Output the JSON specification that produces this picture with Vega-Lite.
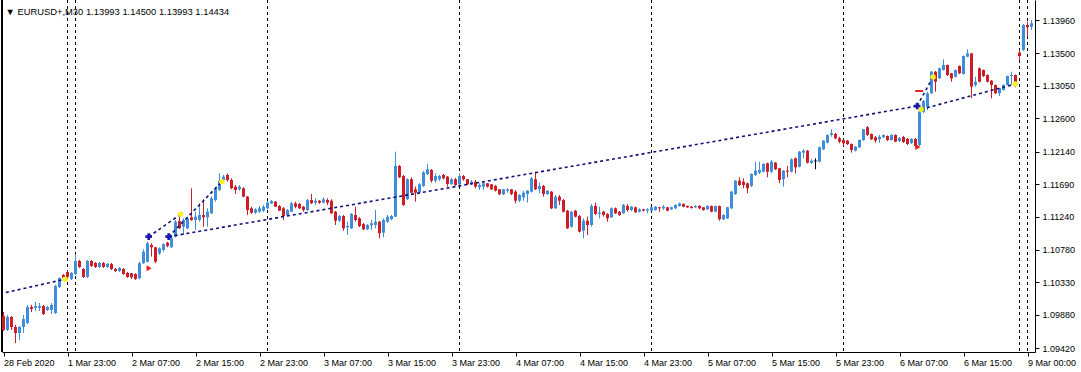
{
"$schema":"https://vega.github.io/schema/vega-lite/v6.json",
"width":1033,"height":352,
"autosize":{"type":"none"},
"padding":{"left":2,"top":0,"right":46,"bottom":20},
"background":"white",
"title":{"text":"▼ EURUSD+,M30  1.13993 1.14500 1.13993 1.14434","anchor":"start","orient":"top","offset":-25,"dx":4,"font":"Liberation Sans","fontSize":9.4,"fontWeight":"normal","color":"black","baseline":"alphabetic"},
"config":{"view":{"stroke":null},"scale":{"continuousPadding":0},"axis":{"labelFont":"Liberation Sans","labelFontSize":9,"labelColor":"black","tickColor":"black","domainColor":"black","domainWidth":1,"tickWidth":1,"grid":false,"labelOverlap":false}},
"datasets":{
"candles":[
{"i":0,"o":1.09864,"h":1.09919,"l":1.09656,"c":1.0967},
{"i":1,"o":1.0967,"h":1.09877,"l":1.09656,"c":1.09849},
{"i":2,"o":1.09849,"h":1.09864,"l":1.0967,"c":1.09711},
{"i":3,"o":1.09711,"h":1.09739,"l":1.0949,"c":1.09628},
{"i":4,"o":1.09628,"h":1.09725,"l":1.09531,"c":1.09711},
{"i":5,"o":1.09711,"h":1.09877,"l":1.09628,"c":1.09822},
{"i":6,"o":1.09766,"h":1.10016,"l":1.09753,"c":1.09988},
{"i":7,"o":1.09988,"h":1.10016,"l":1.09919,"c":1.09961},
{"i":8,"o":1.09975,"h":1.10057,"l":1.09933,"c":1.10002},
{"i":9,"o":1.09975,"h":1.10043,"l":1.09933,"c":1.10002},
{"i":10,"o":1.10002,"h":1.10016,"l":1.09877,"c":1.09892},
{"i":11,"o":1.09947,"h":1.10002,"l":1.09933,"c":1.09988},
{"i":12,"o":1.09947,"h":1.10043,"l":1.09892,"c":1.10016},
{"i":13,"o":1.09905,"h":1.10292,"l":1.09892,"c":1.10278},
{"i":14,"o":1.10264,"h":1.10395,"l":1.10251,"c":1.1039},
{"i":15,"o":1.10431,"h":1.10445,"l":1.10362,"c":1.1039},
{"i":16,"o":1.10472,"h":1.10486,"l":1.10362,"c":1.10403},
{"i":17,"o":1.10376,"h":1.10472,"l":1.10362,"c":1.10459},
{"i":18,"o":1.10445,"h":1.10722,"l":1.10431,"c":1.10625},
{"i":19,"o":1.10625,"h":1.10639,"l":1.10528,"c":1.10542},
{"i":20,"o":1.10514,"h":1.10528,"l":1.1039,"c":1.10403},
{"i":21,"o":1.10403,"h":1.10639,"l":1.1039,"c":1.10625},
{"i":22,"o":1.10625,"h":1.10639,"l":1.10542,"c":1.10556},
{"i":23,"o":1.10597,"h":1.10611,"l":1.10528,"c":1.10542},
{"i":24,"o":1.10542,"h":1.10611,"l":1.10528,"c":1.10597},
{"i":25,"o":1.10597,"h":1.10611,"l":1.10528,"c":1.10542},
{"i":26,"o":1.10542,"h":1.10597,"l":1.10528,"c":1.10584},
{"i":27,"o":1.10584,"h":1.10597,"l":1.105,"c":1.10514},
{"i":28,"o":1.10514,"h":1.10528,"l":1.10472,"c":1.10486},
{"i":29,"o":1.10486,"h":1.10542,"l":1.10472,"c":1.10528},
{"i":30,"o":1.10514,"h":1.10528,"l":1.10431,"c":1.10445},
{"i":31,"o":1.10459,"h":1.10472,"l":1.1039,"c":1.10403},
{"i":32,"o":1.10455,"h":1.10459,"l":1.10376,"c":1.10399},
{"i":33,"o":1.10445,"h":1.10455,"l":1.10362,"c":1.10376},
{"i":34,"o":1.10385,"h":1.10615,"l":1.10372,"c":1.10593},
{"i":35,"o":1.10593,"h":1.10787,"l":1.10584,"c":1.10754},
{"i":36,"o":1.10615,"h":1.10892,"l":1.10602,"c":1.10869},
{"i":37,"o":1.10846,"h":1.10869,"l":1.10685,"c":1.10814},
{"i":38,"o":1.10814,"h":1.10822,"l":1.10593,"c":1.10615},
{"i":39,"o":1.10731,"h":1.10814,"l":1.10708,"c":1.108},
{"i":40,"o":1.10777,"h":1.10869,"l":1.10754,"c":1.10856},
{"i":41,"o":1.10878,"h":1.10892,"l":1.10814,"c":1.10832},
{"i":42,"o":1.10814,"h":1.10961,"l":1.10805,"c":1.10939},
{"i":43,"o":1.10961,"h":1.11192,"l":1.10953,"c":1.11169},
{"i":44,"o":1.11178,"h":1.11238,"l":1.11068,"c":1.11077},
{"i":45,"o":1.11099,"h":1.11215,"l":1.10985,"c":1.11192},
{"i":46,"o":1.11077,"h":1.11238,"l":1.11068,"c":1.11215},
{"i":47,"o":1.11229,"h":1.11631,"l":1.11182,"c":1.11192},
{"i":48,"o":1.11192,"h":1.11307,"l":1.11054,"c":1.11238},
{"i":49,"o":1.11192,"h":1.11423,"l":1.11169,"c":1.11262},
{"i":50,"o":1.11262,"h":1.11479,"l":1.11099,"c":1.11229},
{"i":51,"o":1.11229,"h":1.11354,"l":1.11099,"c":1.11307},
{"i":52,"o":1.11285,"h":1.11515,"l":1.11276,"c":1.11492},
{"i":53,"o":1.11469,"h":1.11653,"l":1.11446,"c":1.11631},
{"i":54,"o":1.11607,"h":1.11838,"l":1.11598,"c":1.11736},
{"i":55,"o":1.11746,"h":1.11815,"l":1.11722,"c":1.11791},
{"i":56,"o":1.11815,"h":1.11838,"l":1.11722,"c":1.11746},
{"i":57,"o":1.11746,"h":1.11769,"l":1.11617,"c":1.11631},
{"i":58,"o":1.11653,"h":1.11677,"l":1.11552,"c":1.11607},
{"i":59,"o":1.11617,"h":1.11677,"l":1.11598,"c":1.11653},
{"i":60,"o":1.11631,"h":1.11645,"l":1.11506,"c":1.11515},
{"i":61,"o":1.11515,"h":1.11525,"l":1.11262,"c":1.11331},
{"i":62,"o":1.11354,"h":1.11376,"l":1.11276,"c":1.11293},
{"i":63,"o":1.11293,"h":1.11354,"l":1.11276,"c":1.1134},
{"i":64,"o":1.11307,"h":1.11386,"l":1.11289,"c":1.11354},
{"i":65,"o":1.11321,"h":1.114,"l":1.11303,"c":1.11376},
{"i":66,"o":1.11354,"h":1.11455,"l":1.11344,"c":1.11432},
{"i":67,"o":1.11423,"h":1.11469,"l":1.11414,"c":1.11455},
{"i":68,"o":1.11446,"h":1.11455,"l":1.11372,"c":1.11376},
{"i":69,"o":1.11386,"h":1.114,"l":1.11317,"c":1.11321},
{"i":70,"o":1.11354,"h":1.11372,"l":1.11192,"c":1.11248},
{"i":71,"o":1.11262,"h":1.11345,"l":1.11248,"c":1.11331},
{"i":72,"o":1.11307,"h":1.11441,"l":1.11303,"c":1.11423},
{"i":73,"o":1.11423,"h":1.11446,"l":1.11354,"c":1.11376},
{"i":74,"o":1.11414,"h":1.11428,"l":1.11344,"c":1.11354},
{"i":75,"o":1.11376,"h":1.11386,"l":1.11307,"c":1.11331},
{"i":76,"o":1.11331,"h":1.11483,"l":1.11317,"c":1.11469},
{"i":77,"o":1.11469,"h":1.11552,"l":1.11414,"c":1.11423},
{"i":78,"o":1.11432,"h":1.11492,"l":1.114,"c":1.11459},
{"i":79,"o":1.11459,"h":1.11469,"l":1.11414,"c":1.11432},
{"i":80,"o":1.11432,"h":1.11506,"l":1.11423,"c":1.11479},
{"i":81,"o":1.11469,"h":1.11492,"l":1.114,"c":1.11432},
{"i":82,"o":1.11459,"h":1.11479,"l":1.11276,"c":1.11285},
{"i":83,"o":1.11307,"h":1.11317,"l":1.11123,"c":1.11182},
{"i":84,"o":1.11182,"h":1.11262,"l":1.11165,"c":1.11248},
{"i":85,"o":1.11248,"h":1.11262,"l":1.11044,"c":1.11077},
{"i":86,"o":1.11091,"h":1.11169,"l":1.10985,"c":1.11109},
{"i":87,"o":1.11077,"h":1.11289,"l":1.11068,"c":1.11276},
{"i":88,"o":1.11262,"h":1.11376,"l":1.11169,"c":1.11192},
{"i":89,"o":1.11215,"h":1.11233,"l":1.11095,"c":1.11109},
{"i":90,"o":1.11137,"h":1.11151,"l":1.11054,"c":1.11063},
{"i":91,"o":1.11063,"h":1.11137,"l":1.11054,"c":1.11123},
{"i":92,"o":1.11119,"h":1.11192,"l":1.11054,"c":1.11146},
{"i":93,"o":1.11123,"h":1.11331,"l":1.11077,"c":1.11169},
{"i":94,"o":1.11169,"h":1.11178,"l":1.10939,"c":1.11008},
{"i":95,"o":1.11017,"h":1.11215,"l":1.10953,"c":1.11192},
{"i":96,"o":1.11169,"h":1.11262,"l":1.11151,"c":1.11238},
{"i":97,"o":1.11202,"h":1.11262,"l":1.11192,"c":1.11248},
{"i":98,"o":1.11238,"h":1.12138,"l":1.11234,"c":1.1194},
{"i":99,"o":1.1194,"h":1.11953,"l":1.11774,"c":1.11783},
{"i":100,"o":1.11801,"h":1.11815,"l":1.11386,"c":1.114},
{"i":101,"o":1.11479,"h":1.11769,"l":1.11469,"c":1.11756},
{"i":102,"o":1.11756,"h":1.11783,"l":1.11562,"c":1.1157},
{"i":103,"o":1.11617,"h":1.11653,"l":1.11446,"c":1.1157},
{"i":104,"o":1.1157,"h":1.11704,"l":1.11552,"c":1.11686},
{"i":105,"o":1.11663,"h":1.1187,"l":1.11649,"c":1.11852},
{"i":106,"o":1.11829,"h":1.11967,"l":1.11815,"c":1.11894},
{"i":107,"o":1.11884,"h":1.11898,"l":1.11709,"c":1.11736},
{"i":108,"o":1.11736,"h":1.11838,"l":1.11709,"c":1.11801},
{"i":109,"o":1.11756,"h":1.11815,"l":1.11732,"c":1.11801},
{"i":110,"o":1.11815,"h":1.11829,"l":1.11756,"c":1.11769},
{"i":111,"o":1.11792,"h":1.11801,"l":1.11653,"c":1.1169},
{"i":112,"o":1.1169,"h":1.11774,"l":1.11677,"c":1.11756},
{"i":113,"o":1.11756,"h":1.11774,"l":1.11663,"c":1.11677},
{"i":114,"o":1.11686,"h":1.11838,"l":1.11677,"c":1.11801},
{"i":115,"o":1.11801,"h":1.11815,"l":1.11736,"c":1.11756},
{"i":116,"o":1.11756,"h":1.1176,"l":1.11677,"c":1.11686},
{"i":117,"o":1.1169,"h":1.11746,"l":1.11677,"c":1.11722},
{"i":118,"o":1.11722,"h":1.11746,"l":1.11631,"c":1.11653},
{"i":119,"o":1.11645,"h":1.117,"l":1.11607,"c":1.11677},
{"i":120,"o":1.11653,"h":1.11722,"l":1.11607,"c":1.117},
{"i":121,"o":1.117,"h":1.11704,"l":1.11642,"c":1.11653},
{"i":122,"o":1.11686,"h":1.1169,"l":1.11607,"c":1.11617},
{"i":123,"o":1.11663,"h":1.11677,"l":1.11587,"c":1.11598},
{"i":124,"o":1.11617,"h":1.11621,"l":1.11538,"c":1.11548},
{"i":125,"o":1.11548,"h":1.11621,"l":1.11538,"c":1.11617},
{"i":126,"o":1.11598,"h":1.11631,"l":1.1157,"c":1.11617},
{"i":127,"o":1.11617,"h":1.11621,"l":1.11538,"c":1.11552},
{"i":128,"o":1.11584,"h":1.11607,"l":1.11423,"c":1.11459},
{"i":129,"o":1.11459,"h":1.11552,"l":1.11441,"c":1.11538},
{"i":130,"o":1.11506,"h":1.11594,"l":1.11459,"c":1.1157},
{"i":131,"o":1.11552,"h":1.11607,"l":1.11432,"c":1.11598},
{"i":132,"o":1.11584,"h":1.11787,"l":1.11573,"c":1.11769},
{"i":133,"o":1.11756,"h":1.11861,"l":1.11607,"c":1.11617},
{"i":134,"o":1.11617,"h":1.11709,"l":1.11562,"c":1.11663},
{"i":135,"o":1.11663,"h":1.11677,"l":1.11515,"c":1.11552},
{"i":136,"o":1.11552,"h":1.11607,"l":1.11538,"c":1.11598},
{"i":137,"o":1.11584,"h":1.11594,"l":1.11344,"c":1.11354},
{"i":138,"o":1.11354,"h":1.11538,"l":1.11344,"c":1.11515},
{"i":139,"o":1.11515,"h":1.11538,"l":1.114,"c":1.11459},
{"i":140,"o":1.11469,"h":1.11483,"l":1.11296,"c":1.11307},
{"i":141,"o":1.11321,"h":1.11331,"l":1.11068,"c":1.11077},
{"i":142,"o":1.11099,"h":1.11317,"l":1.11088,"c":1.11307},
{"i":143,"o":1.11321,"h":1.11331,"l":1.11227,"c":1.11238},
{"i":144,"o":1.11248,"h":1.11262,"l":1.11019,"c":1.11031},
{"i":145,"o":1.11044,"h":1.11215,"l":1.10939,"c":1.11182},
{"i":146,"o":1.11182,"h":1.11238,"l":1.10985,"c":1.11123},
{"i":147,"o":1.11123,"h":1.11414,"l":1.11099,"c":1.11386},
{"i":148,"o":1.11386,"h":1.11432,"l":1.11262,"c":1.11276},
{"i":149,"o":1.11276,"h":1.11376,"l":1.11215,"c":1.11293},
{"i":150,"o":1.11307,"h":1.11321,"l":1.11238,"c":1.11262},
{"i":151,"o":1.11276,"h":1.11285,"l":1.11169,"c":1.11215},
{"i":152,"o":1.11229,"h":1.11365,"l":1.1122,"c":1.11354},
{"i":153,"o":1.11354,"h":1.11365,"l":1.11276,"c":1.11285},
{"i":154,"o":1.11307,"h":1.11317,"l":1.11248,"c":1.11262},
{"i":155,"o":1.11285,"h":1.11414,"l":1.11276,"c":1.114},
{"i":156,"o":1.11386,"h":1.11414,"l":1.11307,"c":1.11331},
{"i":157,"o":1.11331,"h":1.11386,"l":1.11317,"c":1.11376},
{"i":158,"o":1.11368,"h":1.11376,"l":1.11289,"c":1.11299},
{"i":159,"o":1.11307,"h":1.11354,"l":1.11296,"c":1.1134},
{"i":160,"o":1.1134,"h":1.11345,"l":1.1131,"c":1.11321},
{"i":161,"o":1.11321,"h":1.11354,"l":1.11285,"c":1.1134},
{"i":162,"o":1.11321,"h":1.11376,"l":1.11313,"c":1.11368},
{"i":163,"o":1.11331,"h":1.11386,"l":1.11321,"c":1.11376},
{"i":164,"o":1.11368,"h":1.11372,"l":1.11307,"c":1.11354},
{"i":165,"o":1.11354,"h":1.114,"l":1.11331,"c":1.11376},
{"i":166,"o":1.11368,"h":1.11372,"l":1.11313,"c":1.11321},
{"i":167,"o":1.1134,"h":1.11376,"l":1.11331,"c":1.11368},
{"i":168,"o":1.11354,"h":1.1141,"l":1.11344,"c":1.114},
{"i":169,"o":1.11386,"h":1.11432,"l":1.11376,"c":1.11423},
{"i":170,"o":1.11414,"h":1.11423,"l":1.11368,"c":1.11376},
{"i":171,"o":1.11386,"h":1.11393,"l":1.11358,"c":1.11368},
{"i":172,"o":1.11376,"h":1.11386,"l":1.11349,"c":1.11358},
{"i":173,"o":1.11368,"h":1.11396,"l":1.11358,"c":1.11386},
{"i":174,"o":1.11386,"h":1.114,"l":1.1134,"c":1.11354},
{"i":175,"o":1.11368,"h":1.11372,"l":1.11321,"c":1.11331},
{"i":176,"o":1.1134,"h":1.11396,"l":1.11331,"c":1.11386},
{"i":177,"o":1.11386,"h":1.11393,"l":1.11299,"c":1.11307},
{"i":178,"o":1.11307,"h":1.11393,"l":1.11299,"c":1.11386},
{"i":179,"o":1.11386,"h":1.11393,"l":1.11182,"c":1.11202},
{"i":180,"o":1.11202,"h":1.11276,"l":1.11192,"c":1.11262},
{"i":181,"o":1.11215,"h":1.11376,"l":1.11206,"c":1.11368},
{"i":182,"o":1.11354,"h":1.11598,"l":1.1134,"c":1.11584},
{"i":183,"o":1.11552,"h":1.11746,"l":1.11538,"c":1.11736},
{"i":184,"o":1.11736,"h":1.11783,"l":1.11663,"c":1.11677},
{"i":185,"o":1.11722,"h":1.11769,"l":1.11631,"c":1.11677},
{"i":186,"o":1.117,"h":1.11709,"l":1.11562,"c":1.11631},
{"i":187,"o":1.11663,"h":1.11838,"l":1.11649,"c":1.11829},
{"i":188,"o":1.11815,"h":1.11999,"l":1.11801,"c":1.11875},
{"i":189,"o":1.11847,"h":1.11999,"l":1.11829,"c":1.11884},
{"i":190,"o":1.11861,"h":1.11977,"l":1.11852,"c":1.11967},
{"i":191,"o":1.11977,"h":1.11985,"l":1.11783,"c":1.11861},
{"i":192,"o":1.11861,"h":1.12023,"l":1.11843,"c":1.11999},
{"i":193,"o":1.11985,"h":1.11995,"l":1.11884,"c":1.11894},
{"i":194,"o":1.11908,"h":1.11912,"l":1.117,"c":1.11746},
{"i":195,"o":1.11756,"h":1.11884,"l":1.11653,"c":1.11875},
{"i":196,"o":1.11875,"h":1.1194,"l":1.11783,"c":1.11861},
{"i":197,"o":1.11861,"h":1.12043,"l":1.1185,"c":1.12032},
{"i":198,"o":1.12046,"h":1.12057,"l":1.11838,"c":1.11921},
{"i":199,"o":1.1193,"h":1.12147,"l":1.11919,"c":1.12138},
{"i":200,"o":1.12124,"h":1.12171,"l":1.12046,"c":1.12151},
{"i":201,"o":1.12151,"h":1.12161,"l":1.11974,"c":1.11985},
{"i":202,"o":1.11985,"h":1.12032,"l":1.11967,"c":1.12013},
{"i":203,"o":1.12009,"h":1.12046,"l":1.11894,"c":1.12009},
{"i":204,"o":1.11999,"h":1.12209,"l":1.11988,"c":1.12198},
{"i":205,"o":1.12171,"h":1.12299,"l":1.12161,"c":1.1229},
{"i":206,"o":1.12262,"h":1.12376,"l":1.12251,"c":1.12369},
{"i":207,"o":1.12369,"h":1.12447,"l":1.12345,"c":1.12392},
{"i":208,"o":1.12382,"h":1.124,"l":1.12309,"c":1.12323},
{"i":209,"o":1.12323,"h":1.12345,"l":1.12254,"c":1.12276},
{"i":210,"o":1.12299,"h":1.12306,"l":1.12216,"c":1.12254},
{"i":211,"o":1.1229,"h":1.12299,"l":1.1223,"c":1.12244},
{"i":212,"o":1.12244,"h":1.12251,"l":1.12124,"c":1.12161},
{"i":213,"o":1.12151,"h":1.12216,"l":1.1214,"c":1.12207},
{"i":214,"o":1.12198,"h":1.12306,"l":1.12189,"c":1.12299},
{"i":215,"o":1.12299,"h":1.12452,"l":1.12286,"c":1.12447},
{"i":216,"o":1.12475,"h":1.12493,"l":1.12355,"c":1.12369},
{"i":217,"o":1.12382,"h":1.12389,"l":1.12299,"c":1.12309},
{"i":218,"o":1.12337,"h":1.12355,"l":1.12262,"c":1.1229},
{"i":219,"o":1.12309,"h":1.12369,"l":1.12262,"c":1.12345},
{"i":220,"o":1.12337,"h":1.12376,"l":1.12327,"c":1.12369},
{"i":221,"o":1.12355,"h":1.12362,"l":1.12286,"c":1.12299},
{"i":222,"o":1.12299,"h":1.12376,"l":1.12292,"c":1.12369},
{"i":223,"o":1.12369,"h":1.12376,"l":1.12268,"c":1.12276},
{"i":224,"o":1.12286,"h":1.12341,"l":1.12272,"c":1.12327},
{"i":225,"o":1.12341,"h":1.12355,"l":1.12258,"c":1.12272},
{"i":226,"o":1.12313,"h":1.12327,"l":1.1223,"c":1.12244},
{"i":227,"o":1.12258,"h":1.12327,"l":1.12244,"c":1.12313},
{"i":228,"o":1.12313,"h":1.12327,"l":1.12203,"c":1.12216},
{"i":229,"o":1.1223,"h":1.12715,"l":1.12216,"c":1.12691},
{"i":230,"o":1.12687,"h":1.12853,"l":1.12673,"c":1.12839},
{"i":231,"o":1.1276,"h":1.12968,"l":1.12715,"c":1.12946},
{"i":232,"o":1.12946,"h":1.13254,"l":1.12936,"c":1.13245},
{"i":233,"o":1.13245,"h":1.13254,"l":1.12968,"c":1.13106},
{"i":234,"o":1.13153,"h":1.13303,"l":1.13144,"c":1.13292},
{"i":235,"o":1.13268,"h":1.13416,"l":1.13259,"c":1.13337},
{"i":236,"o":1.13337,"h":1.13344,"l":1.13185,"c":1.13199},
{"i":237,"o":1.13222,"h":1.13227,"l":1.13106,"c":1.13153},
{"i":238,"o":1.13175,"h":1.13275,"l":1.13164,"c":1.13268},
{"i":239,"o":1.13324,"h":1.1333,"l":1.13213,"c":1.13222},
{"i":240,"o":1.13213,"h":1.13469,"l":1.13206,"c":1.13462},
{"i":241,"o":1.13452,"h":1.13555,"l":1.13444,"c":1.13499},
{"i":242,"o":1.13499,"h":1.13503,"l":1.12877,"c":1.13037},
{"i":243,"o":1.13061,"h":1.13175,"l":1.13037,"c":1.13106},
{"i":244,"o":1.13292,"h":1.13303,"l":1.13095,"c":1.13106},
{"i":245,"o":1.13268,"h":1.13275,"l":1.13171,"c":1.13185},
{"i":246,"o":1.13199,"h":1.13206,"l":1.13095,"c":1.13106},
{"i":247,"o":1.1312,"h":1.1313,"l":1.12877,"c":1.13061},
{"i":248,"o":1.13061,"h":1.13068,"l":1.12936,"c":1.12946},
{"i":249,"o":1.12946,"h":1.13019,"l":1.12908,"c":1.13015},
{"i":250,"o":1.12991,"h":1.13068,"l":1.12982,"c":1.13061},
{"i":251,"o":1.13061,"h":1.13192,"l":1.13054,"c":1.13185},
{"i":252,"o":1.13185,"h":1.13245,"l":1.13061,"c":1.13199},
{"i":253,"o":1.13199,"h":1.13206,"l":1.13029,"c":1.13092},
{"i":254,"o":1.13508,"h":1.13545,"l":1.13407,"c":1.13462},
{"i":255,"o":1.13545,"h":1.13905,"l":1.13531,"c":1.13891},
{"i":256,"o":1.13891,"h":1.13937,"l":1.13729,"c":1.13859},
{"i":257,"o":1.13867,"h":1.1396,"l":1.13822,"c":1.13915}
],
"seps":[{"i":16},{"i":18},{"i":66},{"i":114},{"i":162},{"i":210},{"i":254},{"i":256}],
"trades":[
{"t":"A","i":-0.875,"p":1.1017},{"t":"A","i":15.4,"p":1.10372},
{"t":"B","i":41.3,"p":1.10961},{"t":"B","i":228.4,"p":1.1277},
{"t":"C","i":228.4,"p":1.1277},{"t":"C","i":232.4,"p":1.13171},
{"t":"D","i":229.4,"p":1.12724},{"t":"D","i":252.95,"p":1.13075},
{"t":"E","i":41.3,"p":1.10961},{"t":"E","i":54.6,"p":1.11722},
{"t":"F","i":36.3,"p":1.10961},{"t":"F","i":44.3,"p":1.11271}
],
"marks":[
{"k":"open","i":36.3,"p":1.10961},{"k":"open","i":41.3,"p":1.10961},{"k":"open","i":228.4,"p":1.1277},
{"k":"arrow","i":36.4,"p":1.10524},{"k":"arrow","i":228.6,"p":1.12203},
{"k":"stop","i":228.9,"p":1.12978},
{"k":"close","i":15.4,"p":1.10372},{"k":"close","i":44.3,"p":1.11271},{"k":"close","i":54.6,"p":1.11722},{"k":"close","i":229.4,"p":1.12724},{"k":"close","i":232.4,"p":1.13171},{"k":"close","i":252.95,"p":1.13075}
]
},
"layer":[
{"data":{"name":"seps"},"mark":{"type":"rule","color":"black","strokeWidth":1,"strokeDash":[3,3]},
 "encoding":{"x":{"field":"i","type":"quantitative","title":null,"scale":{"domain":[-0.375,257.875],"nice":false,"zero":false,"padding":0},
  "axis":{"values":[0,16,32,48,64,80,96,112,128,144,160,176,192,208,224,240,256],"tickCount":40,"labelExpr":"['28 Feb 2020','1 Mar 23:00','2 Mar 07:00','2 Mar 15:00','2 Mar 23:00','3 Mar 07:00','3 Mar 15:00','3 Mar 23:00','4 Mar 07:00','4 Mar 15:00','4 Mar 23:00','5 Mar 07:00','5 Mar 15:00','5 Mar 23:00','6 Mar 07:00','6 Mar 15:00','9 Mar 00:00'][round(datum.value/16)]","labelAlign":"left","labelPadding":2,"tickSize":4,"labelFlush":false,"labelOverlap":false,"title":null}}}},
{"data":{"name":"seps"},"mark":{"type":"rule","color":"black","strokeWidth":1},"encoding":{"x":{"datum":-0.375,"type":"quantitative"}}},
{"data":{"name":"candles"},"mark":{"type":"rule","strokeWidth":1},
 "encoding":{"x":{"field":"i","type":"quantitative","title":null},
  "y":{"field":"l","type":"quantitative","title":null,"scale":{"domain":[1.09365,1.14237],"nice":false,"zero":false,"padding":0},
   "axis":{"orient":"right","values":[1.0942,1.0988,1.1033,1.1078,1.1124,1.1169,1.1214,1.126,1.1305,1.135,1.1396],"tickCount":30,"format":".5f","tickSize":4,"labelPadding":3,"labelOverlap":false,"labelFlush":false,"title":null}},
  "y2":{"field":"h"},
  "color":{"condition":[{"test":"datum.c == datum.o","value":"#000000"},{"test":"datum.c > datum.o","value":"#3e8edc"}],"value":"#cd1e28"}}},
{"data":{"name":"candles"},"mark":{"type":"bar","width":3},
 "encoding":{"x":{"field":"i","type":"quantitative","title":null},
  "y":{"field":"o","type":"quantitative","title":null},"y2":{"field":"c"},
  "color":{"condition":[{"test":"datum.c == datum.o","value":"#000000"},{"test":"datum.c > datum.o","value":"#3e8edc"}],"value":"#cd1e28"}}},
{"data":{"name":"candles"},"transform":[{"filter":"datum.c == datum.o"}],"mark":{"type":"tick","orient":"horizontal","size":4,"thickness":1,"color":"black"},
 "encoding":{"x":{"field":"i","type":"quantitative","title":null},"y":{"field":"o","type":"quantitative","title":null}}},
{"data":{"name":"trades"},"mark":{"type":"line","color":"#10107a","strokeWidth":1.6,"strokeDash":[3,3],"clip":true},
 "encoding":{"x":{"field":"i","type":"quantitative","title":null},"y":{"field":"p","type":"quantitative","title":null},"detail":{"field":"t"}}},
{"data":{"name":"marks"},"transform":[{"filter":"datum.k == 'close'"}],"mark":{"type":"point","shape":"circle","filled":true,"size":30,"color":"#f8ee2a","opacity":1},
 "encoding":{"x":{"field":"i","type":"quantitative","title":null},"y":{"field":"p","type":"quantitative","title":null}}},
{"data":{"name":"marks"},"transform":[{"filter":"datum.k == 'open'"}],"mark":{"type":"point","shape":"cross","filled":true,"size":45,"color":"#1a1aa8","opacity":1},
 "encoding":{"x":{"field":"i","type":"quantitative","title":null},"y":{"field":"p","type":"quantitative","title":null}}},
{"data":{"name":"marks"},"transform":[{"filter":"datum.k == 'arrow'"}],"mark":{"type":"point","shape":"triangle-right","filled":true,"size":35,"color":"#e0201a","opacity":1},
 "encoding":{"x":{"field":"i","type":"quantitative","title":null},"y":{"field":"p","type":"quantitative","title":null}}},
{"data":{"name":"marks"},"transform":[{"filter":"datum.k == 'stop'"}],"mark":{"type":"point","shape":"stroke","filled":false,"size":60,"strokeWidth":2,"color":"#e0201a","opacity":1},
 "encoding":{"x":{"field":"i","type":"quantitative","title":null},"y":{"field":"p","type":"quantitative","title":null}}}
]
}
